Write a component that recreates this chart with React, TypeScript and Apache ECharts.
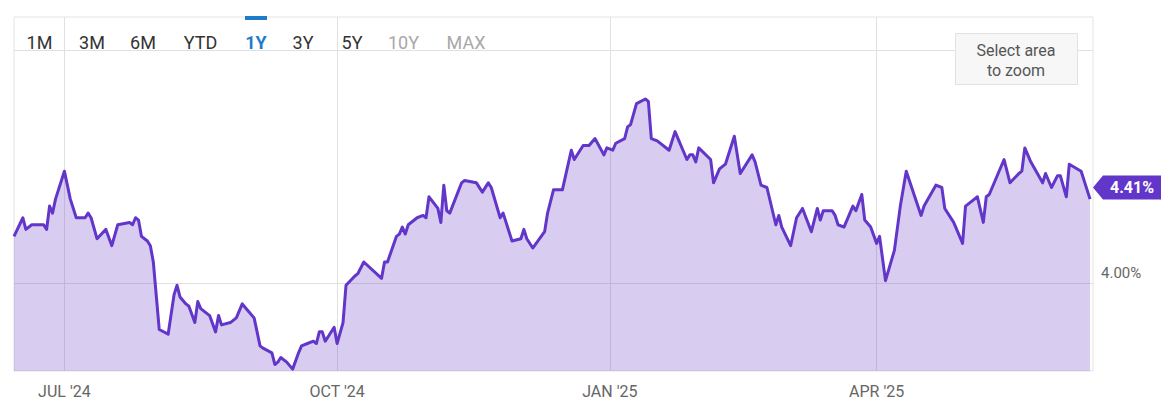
import React, { useEffect, useRef } from "react";
import * as echarts from "echarts";

// ---------- data ----------
const dates: string[] = [
  "2024-06-14","2024-06-17","2024-06-18","2024-06-20","2024-06-24","2024-06-25","2024-06-26","2024-06-27","2024-06-28",
  "2024-07-01","2024-07-03","2024-07-05","2024-07-08","2024-07-09","2024-07-10","2024-07-12","2024-07-15","2024-07-17",
  "2024-07-19","2024-07-23","2024-07-24","2024-07-25","2024-07-26","2024-07-27","2024-07-29","2024-07-30","2024-07-31",
  "2024-08-02","2024-08-05","2024-08-07","2024-08-08","2024-08-09","2024-08-11","2024-08-12","2024-08-14","2024-08-15",
  "2024-08-16","2024-08-19","2024-08-21","2024-08-22","2024-08-23","2024-08-26","2024-08-28","2024-08-30","2024-09-01",
  "2024-09-03","2024-09-05","2024-09-06","2024-09-09","2024-09-10","2024-09-11","2024-09-12","2024-09-14","2024-09-16",
  "2024-09-18","2024-09-19","2024-09-21","2024-09-23","2024-09-24","2024-09-25","2024-09-26","2024-09-27","2024-09-30",
  "2024-10-01","2024-10-03","2024-10-04","2024-10-07","2024-10-08","2024-10-10","2024-10-16","2024-10-17","2024-10-18",
  "2024-10-21","2024-10-22","2024-10-23","2024-10-24","2024-10-25","2024-10-28","2024-10-30","2024-10-31","2024-11-01",
  "2024-11-04","2024-11-05","2024-11-06","2024-11-07","2024-11-08","2024-11-12","2024-11-13","2024-11-17","2024-11-19",
  "2024-11-21","2024-11-22","2024-11-25","2024-11-26","2024-11-29","2024-12-02","2024-12-03","2024-12-04","2024-12-06",
  "2024-12-10","2024-12-11","2024-12-13","2024-12-16","2024-12-19","2024-12-20","2024-12-23","2024-12-25","2024-12-27",
  "2024-12-30","2024-12-31","2025-01-02","2025-01-03","2025-01-06","2025-01-07","2025-01-08","2025-01-10","2025-01-13",
  "2025-01-14","2025-01-15","2025-01-17","2025-01-21","2025-01-23","2025-01-27","2025-01-28","2025-01-29","2025-01-30",
  "2025-01-31","2025-02-04","2025-02-05","2025-02-07","2025-02-09","2025-02-12","2025-02-14","2025-02-18","2025-02-19",
  "2025-02-21","2025-02-23","2025-02-26","2025-02-27","2025-02-28","2025-03-03","2025-03-05","2025-03-07","2025-03-10",
  "2025-03-12","2025-03-13","2025-03-14","2025-03-17","2025-03-18","2025-03-19","2025-03-21","2025-03-24","2025-03-25",
  "2025-03-27","2025-03-28","2025-03-30","2025-04-01","2025-04-02","2025-04-04","2025-04-07","2025-04-09","2025-04-11",
  "2025-04-16","2025-04-17","2025-04-21","2025-04-23","2025-04-24","2025-04-27","2025-04-30","2025-05-01","2025-05-04",
  "2025-05-05","2025-05-07","2025-05-08","2025-05-09","2025-05-14","2025-05-16","2025-05-19","2025-05-20","2025-05-21",
  "2025-05-23","2025-05-27","2025-05-28","2025-05-30","2025-06-01","2025-06-02","2025-06-04","2025-06-05","2025-06-09",
  "2025-06-12",
];

const yields: number[] = [
  4.20,4.28,4.23,4.25,4.25,4.23,4.33,4.30,4.36,
  4.48,4.36,4.28,4.28,4.30,4.28,4.19,4.23,4.16,
  4.25,4.26,4.25,4.28,4.27,4.20,4.18,4.16,4.09,
  3.80,3.78,3.95,3.99,3.94,3.91,3.90,3.83,3.92,
  3.89,3.86,3.79,3.86,3.82,3.83,3.85,3.91,3.88,
  3.85,3.73,3.72,3.70,3.65,3.66,3.68,3.66,3.63,
  3.70,3.73,3.74,3.75,3.74,3.79,3.79,3.75,3.81,
  3.74,3.83,3.99,4.03,4.04,4.09,4.02,4.09,4.09,
  4.20,4.21,4.24,4.21,4.25,4.28,4.29,4.28,4.37,
  4.32,4.26,4.42,4.31,4.30,4.43,4.44,4.43,4.39,
  4.43,4.41,4.28,4.30,4.18,4.19,4.23,4.19,4.15,
  4.22,4.30,4.40,4.40,4.57,4.53,4.59,4.59,4.62,
  4.55,4.58,4.57,4.60,4.62,4.67,4.68,4.77,4.79,
  4.78,4.62,4.61,4.57,4.65,4.53,4.55,4.55,4.52,
  4.58,4.53,4.43,4.49,4.51,4.63,4.47,4.55,4.52,
  4.42,4.41,4.25,4.29,4.24,4.16,4.28,4.32,4.22,
  4.32,4.27,4.31,4.31,4.29,4.25,4.24,4.33,4.31,
  4.38,4.27,4.24,4.17,4.20,4.01,4.14,4.33,4.48,
  4.29,4.33,4.42,4.41,4.32,4.26,4.17,4.33,4.36,
  4.37,4.26,4.37,4.38,4.53,4.43,4.47,4.48,4.58,
  4.52,4.43,4.47,4.41,4.46,4.46,4.37,4.51,4.48,
  4.36,
];

const currentYield = 4.41;
const xStart = "2024-06-14";
const xEnd = "2025-06-13";
const xTickDates: string[] = ["2024-07-01", "2024-10-01", "2025-01-01", "2025-04-01"];
const xTickLabels: string[] = ["JUL '24", "OCT '24", "JAN '25", "APR '25"];
const yGridValues: number[] = [4, 5];
const yLabelValues: number[] = [4];
const yMin = 3.622;
const yMax = 5.142;
const rangeTabs: string[] = ["1M", "3M", "6M", "YTD", "1Y", "3Y", "5Y", "10Y", "MAX"];
const activeTab = "1Y";
const disabledTabs: string[] = ["10Y", "MAX"];
const zoomHint: string[] = ["Select area", "to zoom"];

// ---------- layout / style ----------
const tabCenters = [39.5, 92, 143, 200.5, 256, 303, 352, 403.5, 466];
const PURPLE = "#6236c9";
const FONT = "Roboto, 'Noto Sans', sans-serif";

const ts = (s: string) => {
  const [y, m, d] = s.split("-").map(Number);
  return new Date(y, m - 1, d).getTime();
};

export default function App() {
  const ref = useRef<HTMLDivElement>(null);

  useEffect(() => {
    if (!ref.current) return;
    const chart = echarts.init(ref.current, undefined, { renderer: "svg" });
    const xTickValues = xTickDates.map(ts);
    const seriesData = dates.map((d, i) => [ts(d), yields[i]]);

    const graphics: any[] = [];
    rangeTabs.forEach((t, i) => {
      const isActive = t === activeTab;
      const isDisabled = disabledTabs.includes(t);
      graphics.push({
        type: "text",
        x: tabCenters[i],
        y: 42,
        z: 10,
        style: {
          text: t,
          align: "center",
          verticalAlign: "middle",
          fontFamily: FONT,
          fontSize: 18,
          fontWeight: isActive ? "bold" : "normal",
          fill: isActive ? "#1f7cc9" : isDisabled ? "#a8a8a8" : "#333333",
        },
      });
      if (isActive) {
        graphics.push({
          type: "rect",
          z: 10,
          shape: { x: tabCenters[i] - 11, y: 16, width: 22, height: 4 },
          style: { fill: "#1f7cc9" },
        });
      }
    });
    graphics.push({
      type: "rect",
      z: 10,
      shape: { x: 955.5, y: 33.5, width: 122, height: 51 },
      style: { fill: "#f7f7f7", stroke: "#e2e2e2", lineWidth: 1 },
    });
    zoomHint.forEach((line, i) => {
      graphics.push({
        type: "text",
        z: 11,
        x: 1016,
        y: 50 + i * 20,
        style: {
          text: line,
          align: "center",
          verticalAlign: "middle",
          fontFamily: FONT,
          fontSize: 16,
          fill: "#555555",
        },
      });
    });

    chart.setOption({
      animation: false,
      backgroundColor: "#ffffff",
      grid: {
        left: 14,
        right: 83,
        top: 17,
        bottom: 44,
        show: true,
        borderColor: "#e3e3e3",
        borderWidth: 1,
        containLabel: false,
      },
      xAxis: {
        type: "value",
        min: ts(xStart),
        max: ts(xEnd),
        axisLine: { show: false },
        axisTick: { show: false, customValues: xTickValues },
        splitLine: { show: true, lineStyle: { color: "#e0e0e0", width: 1 } },
        axisLabel: {
          customValues: xTickValues,
          margin: 12,
          color: "#666666",
          fontFamily: FONT,
          fontSize: 16,
          formatter: (v: number) => {
            let best = -1;
            xTickValues.forEach((t, i) => {
              if (Math.abs(t - v) < 86400000 * 2) best = i;
            });
            return best >= 0 ? xTickLabels[best] : "";
          },
        },
      },
      yAxis: {
        type: "value",
        position: "right",
        min: yMin,
        max: yMax,
        axisLine: { show: false },
        axisTick: { show: false, customValues: yGridValues },
        splitLine: { show: true, lineStyle: { color: "#e0e0e0", width: 1 } },
        axisLabel: {
          customValues: yLabelValues,
          margin: 8,
          color: "#666666",
          fontFamily: FONT,
          fontSize: 15,
          verticalAlign: "bottom",
          padding: [0, 0, 2, 0],
          formatter: (v: number) => v.toFixed(2) + "%",
        },
      },
      series: [
        {
          type: "line",
          data: seriesData,
          symbol: "none",
          showSymbol: false,
          lineStyle: { color: PURPLE, width: 3, join: "round" },
          areaStyle: { color: "rgba(98,54,201,0.25)", opacity: 1 },
          z: 3,
          markPoint: {
            silent: true,
            symbol: "path://M0,12L10,0L68,0L68,24L10,24Z",
            symbolSize: [68, 24],
            symbolKeepAspect: false,
            symbolOffset: [34, 0],
            itemStyle: { color: PURPLE },
            label: {
              show: true,
              position: "inside",
              offset: [5, 0],
              color: "#ffffff",
              fontFamily: FONT,
              fontSize: 16,
              fontWeight: "bold",
              formatter: () => currentYield.toFixed(2) + "%",
            },
            data: [{ coord: [ts(xEnd), currentYield], value: currentYield }],
          },
        },
      ],
      graphic: graphics,
    });

    return () => chart.dispose();
  }, []);

  return (
    <div
      ref={ref}
      style={{ position: "absolute", left: 0, top: 0, width: 1176, height: 415, background: "#fff" }}
    />
  );
}
